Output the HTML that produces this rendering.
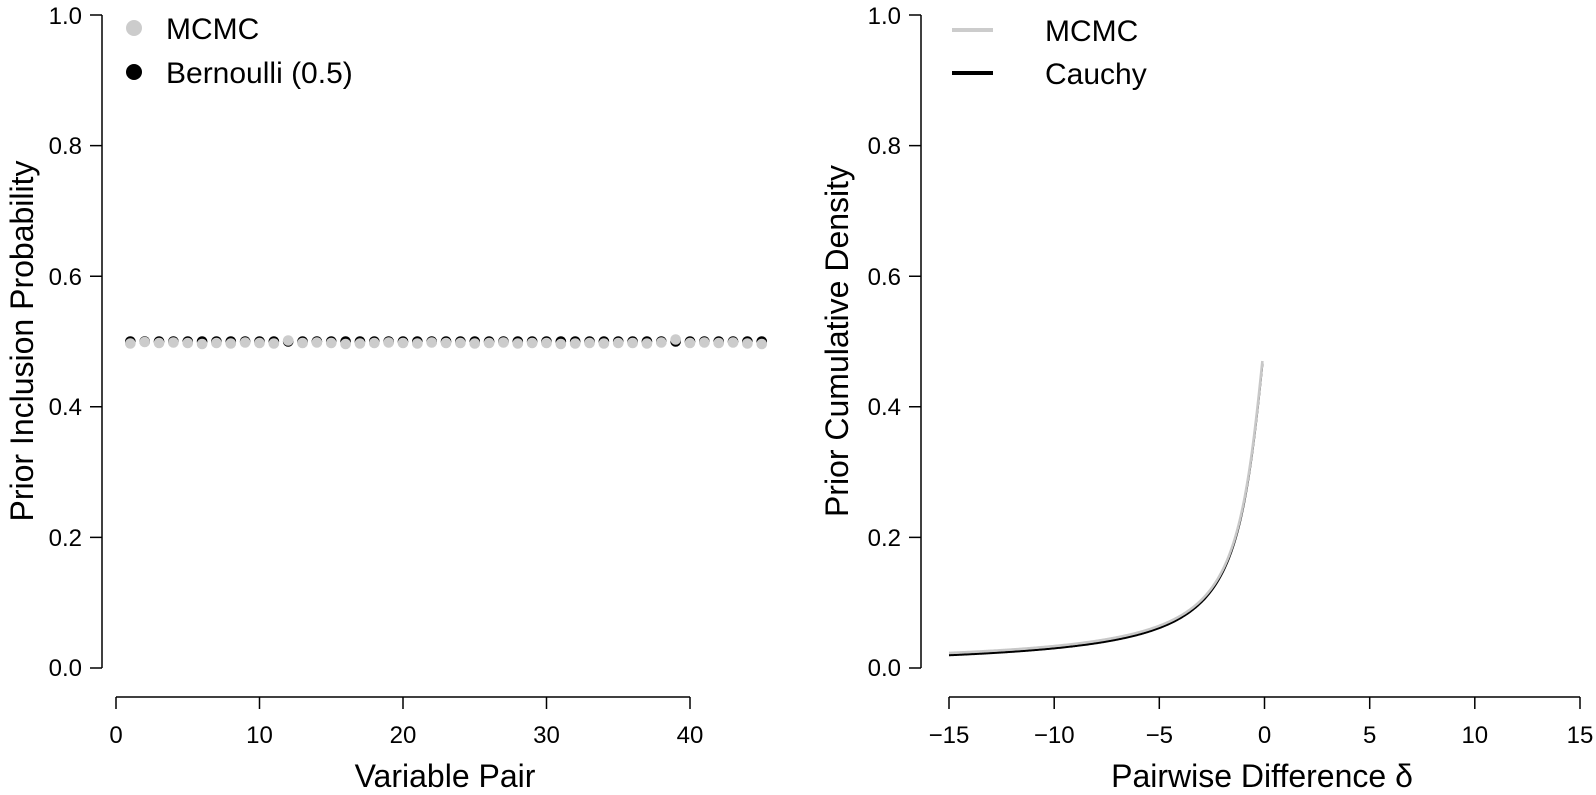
<!DOCTYPE html>
<html><head><meta charset="utf-8"><style>
html,body{margin:0;padding:0;background:#fff}
svg{display:block}
text{font-family:"Liberation Sans",Arial,sans-serif;fill:#000}
</style></head><body>
<svg id="root" width="1596" height="795" viewBox="0 0 1596 795" xmlns="http://www.w3.org/2000/svg">
<g stroke="#000" stroke-width="1.5" fill="none">
<path d="M102,15 V668 M90,15 H102 M90,145.6 H102 M90,276.2 H102 M90,406.8 H102 M90,537.4 H102 M90,668 H102"/>
<path d="M116,697 H690 M116,697 V709 M259.5,697 V709 M403,697 V709 M546.5,697 V709 M690,697 V709"/>
<path d="M921,15 V668 M909,15 H921 M909,145.6 H921 M909,276.2 H921 M909,406.8 H921 M909,537.4 H921 M909,668 H921"/>
<path d="M949,697 H1580 M949,697 V709 M1054.2,697 V709 M1159.3,697 V709 M1264.5,697 V709 M1369.7,697 V709 M1474.8,697 V709 M1580,697 V709"/>
</g>
<g font-size="24" text-anchor="end">
<text x="82" y="24">1.0</text><text x="82" y="154">0.8</text><text x="82" y="285">0.6</text><text x="82" y="415">0.4</text><text x="82" y="546">0.2</text><text x="82" y="676">0.0</text>
<text x="901" y="24">1.0</text><text x="901" y="154">0.8</text><text x="901" y="285">0.6</text><text x="901" y="415">0.4</text><text x="901" y="546">0.2</text><text x="901" y="676">0.0</text>
</g>
<g font-size="24" text-anchor="middle">
<text x="116" y="743">0</text><text x="259.5" y="743">10</text><text x="403" y="743">20</text><text x="546.5" y="743">30</text><text x="690" y="743">40</text>
<text x="949" y="743">−15</text><text x="1054.2" y="743">−10</text><text x="1159.3" y="743">−5</text><text x="1264.5" y="743">0</text><text x="1369.7" y="743">5</text><text x="1474.8" y="743">10</text><text x="1580" y="743">15</text>
</g>
<g font-size="32" text-anchor="middle">
<text x="445" y="787">Variable Pair</text>
<text x="1262" y="787">Pairwise Difference δ</text>
<text transform="translate(33,341) rotate(-90)">Prior Inclusion Probability</text>
<text transform="translate(848,341) rotate(-90)">Prior Cumulative Density</text>
</g>
<circle cx="134" cy="28" r="8" fill="#cccccc"/>
<circle cx="134" cy="72" r="8" fill="#000"/>
<g font-size="30"><text x="166" y="39">MCMC</text><text x="166" y="83">Bernoulli (0.5)</text>
<text x="1045" y="41">MCMC</text><text x="1045" y="84">Cauchy</text></g>
<path d="M952,30 H993" stroke="#cccccc" stroke-width="4"/>
<path d="M952,73 H993" stroke="#000" stroke-width="4"/>
<g id="pts"></g>
<path id="blk" fill="none" stroke="#000" stroke-width="2.2"/>
<path id="gry" fill="none" stroke="#c8c8c8" stroke-width="2.6"/>
<script>
(function(){
var ns="http://www.w3.org/2000/svg",g=document.getElementById("pts");
var off=[-2,1,-1,0,-1,-3,-1,-2,0,-1,-2,4,-1,0,-1,-3,-2,-1,0,-1,-2,0,-1,-1,-2,-1,0,-2,-1,-1,-3,-2,-1,-2,-1,-1,-2,0,6,-1,0,-1,0,-2,-3];
function c(x,y,f){var e=document.createElementNS(ns,"circle");e.setAttribute("cx",x);e.setAttribute("cy",y);e.setAttribute("r","5.3");e.setAttribute("fill",f);g.appendChild(e);}
var i;
for(i=1;i<=45;i++)c(116+14.35*i,341.5,"#000");
for(i=1;i<=45;i++)c(116+14.35*i,341.5-off[i-1]*0.5+1,"#cccccc");
var db="",dg="";
for(var k=0;k<=300;k++){var u=-15+k*(14.9/300);var F=0.5+Math.atan(u)/Math.PI;
var X=1264.5+u*21.033,Y=668-F*653;
db+=(k?"L":"M")+X.toFixed(2)+","+(Y+1).toFixed(2);
dg+=(k?"L":"M")+X.toFixed(2)+","+(Y-1.2).toFixed(2);}
document.getElementById("blk").setAttribute("d",db);
document.getElementById("gry").setAttribute("d",dg);
})();
</script>
</svg>
</body></html>
